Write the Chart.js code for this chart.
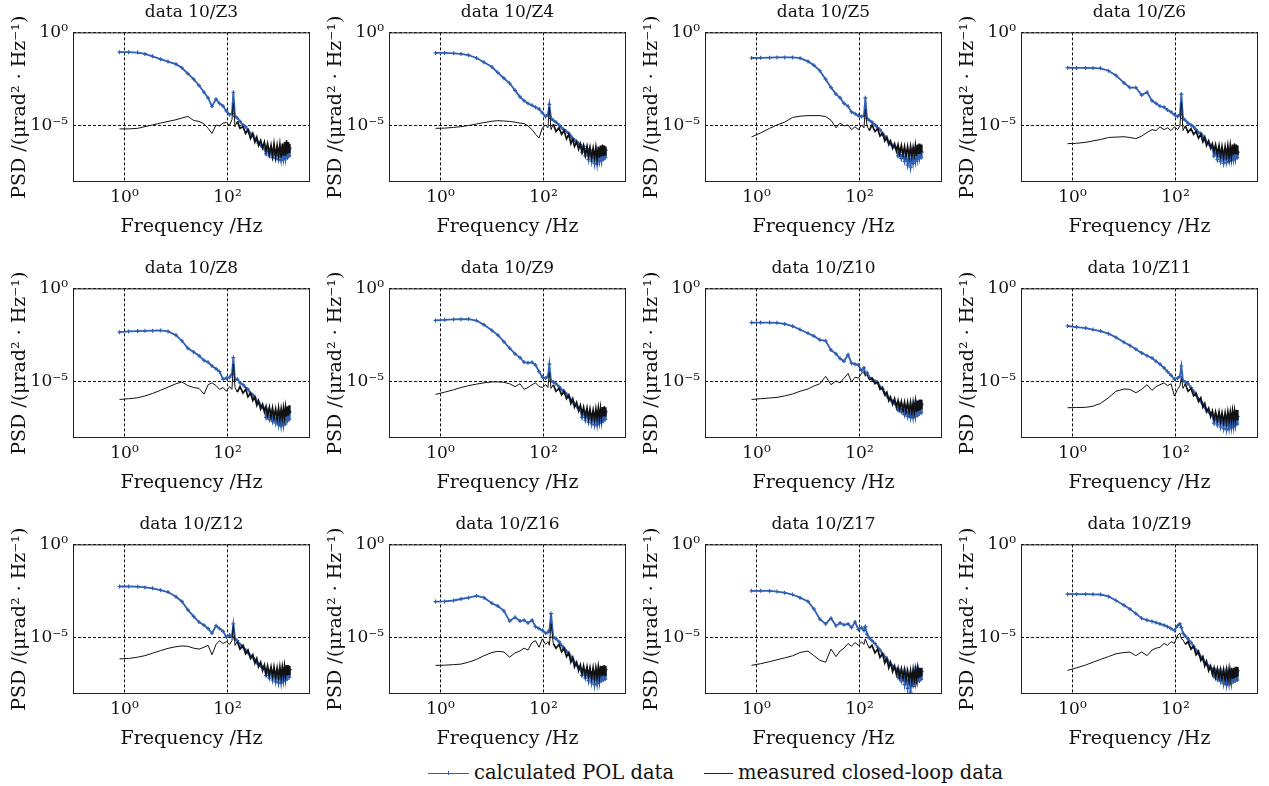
<!DOCTYPE html>
<html>
<head>
<meta charset="utf-8">
<script src="https://cdn.jsdelivr.net/npm/chart.js@4.4.0/dist/chart.umd.min.js"></script>
<style>
  body { margin: 0; background: #fff; width: 1269px; height: 786px; position: relative; overflow: hidden; font-family: 'DejaVu Serif', serif; }
  canvas { position: absolute; }
  .sw { position: absolute; height: 0; border-top: 1.5px solid; }
  .tick { position: absolute; width: 1px; height: 4px; background: #2f5fb3; }
  .lt { position: absolute; font-size: 19.5px; line-height: 22px; color: #111; white-space: nowrap; }
</style>
</head>
<body>
<span class="sw" style="left:428px; top:773px; width:41px; border-color:#2f5fb3"></span>
<span class="tick" style="left:448px; top:771px"></span>
<span class="lt" style="left:474px; top:762px">calculated POL data</span>
<span class="sw" style="left:704px; top:773px; width:29px; border-color:#222; border-top-width:1px"></span>
<span class="lt" style="left:738px; top:762px">measured closed-loop data</span>

<script>
// frequency bins shared by every panel (Hz)
const freq = [0.8, 1.2, 1.8, 2.5, 3.5, 5, 7, 10, 13, 17,
  22, 28, 35, 42, 50, 60, 70, 82, 95, 110,
  122, 130, 140, 155, 175, 200, 225, 250, 280, 310,
  340, 370, 400, 440, 480, 520, 560, 600, 650, 700,
  750, 800, 860, 920, 980, 1040, 1100, 1160, 1220, 1280,
  1340, 1400, 1460, 1520, 1580, 1620];

const xTicks = [1, 100];
const xTickLabels = ['10⁰', '10²'];
const yTicks = [1e-5, 1];
const yTickLabels = ['10⁻⁵', '10⁰'];

// PSD, stored as decade exponents (log10 of µrad²/Hz)
const z3Pol = [-1.06,-1.06,-1.08,-1.15,-1.28,-1.43,-1.56,-1.7,-1.89,-2.2, -2.5,-2.84,-3.2,-3.5,-3.95,-3.57,-3.8,-3.94,-4.2,-4.4, -4.34,-3.2,-4.49,-4.58,-4.76,-4.95,-5.04,-5.22,-5.4,-5.5, -5.68,-5.77,-5.92,-6.04,-6.13,-6.23, -6.5,-6.2,-6.6,-6.3,-6.7,-6.3,-6.75,-6.35,-6.8,-6.4, -6.85,-6.35,-6.8,-6.3,-6.75,-6.2,-6.7,-6.1,-6.6,-6.2];
const z3Cl = [-5.16,-5.16,-5.13,-5.04,-4.95,-4.85,-4.76,-4.67,-4.58,-4.49, -4.71,-4.76,-4.89,-5.13,-5.4,-4.95,-5.0,-4.85,-4.82,-4.95, -4.67,-3.8,-5.04,-4.76,-5.13,-5.04,-5.4,-5.22,-5.68,-5.4, -5.86,-5.59,-6.04,-5.77,-6.17,-5.86, -6.32,-5.95,-6.5,-6.04,-6.59,-5.95,-6.65,-6.04,-6.59,-5.99, -6.68,-5.95,-6.59,-5.86,-6.59,-5.77,-6.5,-5.86,-6.41,-5.95];

const z4Pol = [-1.1,-1.1,-1.12,-1.15,-1.22,-1.37,-1.6,-1.85,-2.15,-2.45, -2.72,-3.1,-3.45,-3.65,-3.8,-3.9,-4.0,-4.1,-4.3,-4.5, -4.4,-3.85,-4.6,-4.7,-4.8,-4.95,-5.1,-5.2,-5.3,-5.4, -5.55,-5.7,-5.75,-5.85,-5.95,-6.0, -6.4,-6.1,-6.6,-6.2,-6.8,-6.3,-6.9,-6.4,-7.0,-6.4, -7.05,-6.5,-6.9,-6.4,-6.85,-6.3,-6.8,-6.2,-6.7,-6.3];
const z4Cl = [-5.13,-5.12,-5.08,-5.04,-4.98,-4.9,-4.82,-4.75,-4.72,-4.74, -4.76,-4.8,-4.85,-4.88,-5.0,-5.2,-5.45,-5.65,-5.1,-4.95, -5.1,-4.03,-5.2,-4.9,-5.3,-5.1,-5.45,-5.25,-5.7,-5.45, -5.95,-5.7,-6.1,-5.85,-6.25,-5.95, -6.4,-6.05,-6.55,-6.1,-6.6,-6.15,-6.7,-6.2,-6.7,-6.15, -6.75,-6.1,-6.7,-6.05,-6.65,-6.0,-6.6,-6.05,-6.55,-6.1];

const z5Pol = [-1.37,-1.36,-1.35,-1.34,-1.34,-1.34,-1.38,-1.55,-1.76,-2.05, -2.5,-2.95,-3.3,-3.5,-3.8,-3.95,-4.25,-4.35,-4.45,-4.5, -4.45,-3.5,-4.6,-4.7,-4.8,-4.95,-5.1,-5.2,-5.4,-5.55, -5.7,-5.85,-5.95,-6.05,-6.1,-6.2, -6.6,-6.3,-6.75,-6.4,-6.9,-6.5,-7.1,-6.6,-7.2,-6.5, -7.0,-6.45,-6.9,-6.4,-6.8,-6.3,-6.7,-6.3,-6.7,-6.4];
const z5Cl = [-5.59,-5.38,-5.13,-4.95,-4.8,-4.55,-4.48,-4.45,-4.45,-4.45, -4.5,-4.7,-5.1,-4.85,-5.0,-4.95,-5.2,-5.05,-5.2,-4.95, -5.1,-4.12,-5.0,-5.25,-4.95,-5.3,-5.15,-5.55,-5.4,-5.8, -5.6,-6.0,-5.8,-6.2,-5.95,-6.35, -6.0,-6.5,-6.05,-6.55,-6.1,-6.6,-6.1,-6.65,-6.1,-6.6, -6.15,-6.55,-6.05,-6.6,-6.0,-6.5,-5.95,-6.5,-6.0,-6.4];

const z6Pol = [-1.89,-1.9,-1.9,-1.91,-1.92,-2.05,-2.3,-2.7,-2.95,-2.95, -3.35,-3.2,-3.65,-3.8,-3.95,-4.0,-4.15,-4.25,-4.4,-4.5, -4.4,-3.3,-4.6,-4.7,-4.85,-4.95,-5.05,-5.2,-5.35,-5.4, -5.55,-5.7,-5.85,-5.95,-6.05,-6.2, -6.6,-6.3,-6.8,-6.4,-6.9,-6.5,-7.0,-6.5,-6.95,-6.5, -6.9,-6.4,-6.85,-6.4,-6.8,-6.3,-6.75,-6.35,-6.7,-6.4];
const z6Cl = [-5.95,-5.93,-5.88,-5.8,-5.73,-5.62,-5.6,-5.58,-5.62,-5.68, -5.55,-5.35,-5.2,-5.25,-5.05,-5.2,-5.1,-5.25,-5.05,-5.2, -5.0,-3.75,-5.25,-5.0,-5.35,-5.15,-5.45,-5.3,-5.65,-5.45, -5.85,-5.6,-6.05,-5.8,-6.2,-5.95, -6.35,-6.0,-6.5,-6.05,-6.6,-6.1,-6.65,-6.1,-6.6,-6.05, -6.65,-6.05,-6.6,-6.0,-6.55,-5.95,-6.5,-6.0,-6.5,-6.05];

const z8Pol = [-2.34,-2.3,-2.28,-2.27,-2.26,-2.25,-2.3,-2.5,-2.8,-3.2, -3.4,-3.6,-3.85,-3.95,-4.15,-4.3,-4.45,-4.85,-4.8,-4.75, -4.6,-3.7,-4.9,-4.85,-5.05,-5.15,-5.3,-5.4,-5.6,-5.7, -5.85,-6.0,-6.1,-6.25,-6.35,-6.45, -6.9,-6.55,-7.0,-6.6,-7.1,-6.7,-7.2,-6.75,-7.3,-6.8, -7.35,-6.8,-7.3,-6.7,-7.25,-6.6,-7.1,-6.5,-7.0,-6.6];
const z8Cl = [-5.94,-5.9,-5.85,-5.75,-5.62,-5.45,-5.28,-5.1,-5.0,-5.2, -5.3,-5.35,-5.65,-5.15,-5.05,-5.2,-5.4,-5.3,-5.5,-5.25, -5.4,-4.05,-5.3,-5.55,-5.25,-5.6,-5.4,-5.8,-5.6,-6.0, -5.8,-6.25,-6.0,-6.45,-6.2,-6.6, -6.3,-6.8,-6.35,-6.9,-6.4,-6.95,-6.45,-7.0,-6.4,-7.0, -6.45,-6.95,-6.4,-6.9,-6.35,-6.85,-6.3,-6.8,-6.25,-6.7];

const z9Pol = [-1.71,-1.68,-1.66,-1.65,-1.64,-1.72,-1.95,-2.25,-2.5,-2.85, -3.2,-3.5,-3.7,-3.95,-3.98,-3.95,-4.1,-4.45,-4.75,-4.8, -4.7,-4.05,-4.95,-5.0,-5.1,-5.25,-5.4,-5.5,-5.65,-5.8, -5.95,-6.05,-6.2,-6.3,-6.4,-6.5, -6.9,-6.55,-7.05,-6.65,-7.15,-6.7,-7.25,-6.8,-7.3,-6.8, -7.3,-6.75,-7.2,-6.7,-7.15,-6.6,-7.1,-6.55,-7.0,-6.6];
const z9Cl = [-5.67,-5.55,-5.42,-5.3,-5.2,-5.12,-5.05,-5.0,-5.0,-5.02, -5.1,-5.25,-5.1,-5.4,-5.3,-5.15,-5.05,-5.25,-5.3,-5.15, -5.3,-4.5,-5.35,-5.15,-5.5,-5.35,-5.7,-5.5,-5.9,-5.7, -6.15,-5.9,-6.35,-6.1,-6.55,-6.25, -6.7,-6.35,-6.85,-6.4,-6.95,-6.45,-7.0,-6.5,-7.0,-6.45, -6.95,-6.4,-6.95,-6.4,-6.9,-6.35,-6.85,-6.3,-6.8,-6.35];

const z10Pol = [-1.83,-1.83,-1.83,-1.84,-1.9,-2.02,-2.2,-2.4,-2.55,-2.75, -2.8,-3.3,-3.5,-3.75,-3.9,-3.55,-4.0,-4.05,-4.1,-4.4, -4.25,-4.55,-4.5,-4.75,-4.85,-4.95,-5.05,-5.25,-5.4,-5.6, -5.75,-5.85,-5.95,-6.05,-6.15,-6.2, -6.5,-6.2,-6.6,-6.3,-6.75,-6.35,-6.85,-6.4,-6.9,-6.4, -6.9,-6.35,-6.85,-6.3,-6.8,-6.2,-6.7,-6.15,-6.65,-6.2];
const z10Cl = [-5.94,-5.9,-5.86,-5.83,-5.75,-5.65,-5.5,-5.38,-5.22,-5.1, -4.7,-5.15,-4.95,-5.05,-4.8,-4.55,-5.0,-4.75,-4.8,-4.55, -4.45,-4.7,-4.6,-4.9,-4.8,-5.1,-5.0,-5.4,-5.3,-5.7, -5.55,-6.0,-5.8,-6.2,-5.9,-6.35, -6.0,-6.45,-6.05,-6.55,-6.1,-6.6,-6.1,-6.65,-6.1,-6.65, -6.1,-6.6,-6.05,-6.6,-6.0,-6.55,-5.95,-6.5,-5.95,-6.45];

const z11Pol = [-2.01,-2.07,-2.12,-2.2,-2.28,-2.42,-2.62,-2.88,-3.05,-3.25, -3.45,-3.6,-3.72,-3.9,-4.05,-4.25,-4.45,-4.65,-4.85,-4.8, -4.7,-4.15,-4.95,-5.0,-5.1,-5.3,-5.5,-5.7,-5.9,-6.05, -6.2,-6.35,-6.5,-6.6,-6.7,-6.8, -7.2,-6.85,-7.3,-6.9,-7.4,-6.95,-7.5,-7.0,-7.55,-7.0, -7.5,-6.95,-7.45,-6.9,-7.4,-6.85,-7.3,-6.8,-7.25,-6.85];
const z11Cl = [-6.38,-6.37,-6.36,-6.3,-6.15,-5.85,-5.5,-5.38,-5.4,-5.58, -5.4,-5.15,-5.45,-5.25,-5.15,-5.05,-5.2,-5.1,-5.75,-5.4, -5.2,-4.77,-5.35,-5.1,-5.5,-5.35,-5.75,-5.6,-6.05,-5.85, -6.35,-6.15,-6.6,-6.4,-6.85,-6.55, -7.0,-6.6,-7.05,-6.6,-7.1,-6.65,-7.15,-6.65,-7.15,-6.6, -7.1,-6.6,-7.1,-6.55,-7.05,-6.55,-7.0,-6.5,-7.0,-6.5];

const z12Pol = [-2.25,-2.25,-2.26,-2.3,-2.35,-2.45,-2.55,-2.8,-3.05,-3.5, -3.85,-4.15,-4.32,-4.5,-4.75,-4.35,-4.5,-4.65,-4.95,-4.85, -4.9,-4.25,-5.05,-5.15,-5.35,-5.5,-5.65,-5.8,-5.95,-6.05, -6.2,-6.3,-6.4,-6.5,-6.55,-6.65, -7.0,-6.7,-7.15,-6.75,-7.25,-6.8,-7.35,-6.85,-7.4,-6.85, -7.4,-6.8,-7.3,-6.75,-7.25,-6.7,-7.2,-6.65,-7.1,-6.7];
const z12Cl = [-6.12,-6.1,-6.03,-5.95,-5.82,-5.68,-5.56,-5.47,-5.43,-5.45, -5.55,-5.6,-5.5,-5.4,-5.9,-5.35,-5.15,-5.3,-5.2,-5.35, -5.15,-4.32,-5.4,-5.2,-5.6,-5.4,-5.85,-5.65,-6.1,-5.9, -6.35,-6.1,-6.55,-6.3,-6.75,-6.45, -6.9,-6.5,-7.0,-6.55,-7.05,-6.55,-7.1,-6.6,-7.1,-6.55, -7.1,-6.55,-7.05,-6.5,-7.0,-6.45,-7.0,-6.45,-6.95,-6.5];

const z16Pol = [-3.06,-3.05,-3.0,-2.92,-2.85,-2.75,-2.85,-3.15,-3.3,-3.55, -4.1,-3.9,-4.1,-4.05,-4.2,-4.05,-4.4,-4.5,-4.6,-4.75, -4.7,-4.6,-3.7,-4.95,-5.05,-5.2,-5.4,-5.55,-5.7,-5.85, -6.0,-6.15,-6.3,-6.45,-6.55,-6.65, -7.0,-6.7,-7.15,-6.75,-7.3,-6.8,-7.4,-6.85,-7.5,-6.85, -7.45,-6.8,-7.35,-6.75,-7.3,-6.7,-7.25,-6.65,-7.2,-6.7];
const z16Cl = [-6.47,-6.46,-6.43,-6.4,-6.3,-6.15,-5.95,-5.78,-5.72,-5.75, -6.03,-5.8,-5.7,-5.55,-5.65,-5.25,-5.15,-5.5,-5.05,-5.35, -5.2,-5.4,-4.23,-5.3,-5.55,-5.35,-5.75,-5.55,-6.0,-5.8, -6.3,-6.05,-6.55,-6.3,-6.75,-6.45, -6.9,-6.5,-7.0,-6.55,-7.05,-6.6,-7.15,-6.6,-7.15,-6.6, -7.1,-6.55,-7.1,-6.5,-7.05,-6.5,-7.0,-6.45,-7.0,-6.5];

const z17Pol = [-2.48,-2.48,-2.49,-2.52,-2.58,-2.68,-2.85,-3.05,-3.45,-4.0, -4.25,-3.95,-4.35,-4.2,-4.3,-4.25,-4.45,-4.15,-4.55,-4.45, -4.6,-4.4,-4.8,-5.0,-5.15,-5.3,-5.5,-5.65,-5.85,-6.0, -6.15,-6.3,-6.4,-6.5,-6.6,-6.7, -7.1,-6.8,-7.3,-6.85,-7.5,-6.9,-7.7,-6.95,-7.9,-6.95, -7.6,-6.9,-7.4,-6.85,-7.3,-6.8,-7.3,-6.75,-7.2,-6.8];
const z17Cl = [-6.47,-6.38,-6.27,-6.17,-6.07,-5.96,-5.78,-5.7,-5.95,-6.2, -6.3,-5.6,-6.0,-5.7,-5.55,-5.3,-5.45,-5.25,-5.4,-5.2, -5.35,-5.05,-5.3,-5.55,-5.4,-5.8,-5.6,-6.05,-5.85,-6.35, -6.1,-6.6,-6.3,-6.8,-6.5,-6.95, -6.6,-7.1,-6.65,-7.15,-6.7,-7.25,-6.75,-7.3,-6.75,-7.3, -6.7,-7.25,-6.7,-7.2,-6.65,-7.15,-6.6,-7.1,-6.6,-7.05];

const z19Pol = [-2.66,-2.66,-2.66,-2.67,-2.68,-2.78,-3.0,-3.25,-3.45,-3.7, -3.95,-4.05,-4.12,-4.18,-4.25,-4.32,-4.4,-4.5,-4.6,-4.35, -4.25,-4.45,-4.75,-4.9,-5.05,-5.25,-5.45,-5.65,-5.85,-6.0, -6.15,-6.3,-6.4,-6.5,-6.6,-6.7, -7.05,-6.75,-7.2,-6.8,-7.3,-6.85,-7.45,-6.9,-7.5,-6.9, -7.45,-6.85,-7.4,-6.8,-7.35,-6.75,-7.3,-6.7,-7.25,-6.75];
const z19Cl = [-6.74,-6.6,-6.45,-6.3,-6.15,-6.0,-5.85,-5.78,-5.76,-5.95, -5.75,-5.95,-5.65,-5.55,-5.5,-5.3,-5.4,-5.2,-5.3,-4.85, -4.75,-5.05,-5.1,-5.35,-5.2,-5.6,-5.45,-5.9,-5.7,-6.2, -6.0,-6.5,-6.25,-6.75,-6.5,-6.95, -6.6,-7.1,-6.65,-7.15,-6.7,-7.2,-6.7,-7.25,-6.7,-7.25, -6.65,-7.2,-6.6,-7.2,-6.6,-7.15,-6.55,-7.1,-6.55,-7.05];

const panelTitles = ['data 10/Z3', 'data 10/Z4', 'data 10/Z5', 'data 10/Z6',
  'data 10/Z8', 'data 10/Z9', 'data 10/Z10', 'data 10/Z11',
  'data 10/Z12', 'data 10/Z16', 'data 10/Z17', 'data 10/Z19'];
const polSeries = [z3Pol, z4Pol, z5Pol, z6Pol, z8Pol, z9Pol, z10Pol, z11Pol, z12Pol, z16Pol, z17Pol, z19Pol];
const clSeries = [z3Cl, z4Cl, z5Cl, z6Cl, z8Cl, z9Cl, z10Cl, z11Cl, z12Cl, z16Cl, z17Cl, z19Cl];

const FONT = "'DejaVu Serif', serif";
const BLUE = '#2f5fb3';

// solid frame round the plot area (grid lines stay dashed)
const framePlugin = {
  id: 'frame',
  afterDraw(chart) {
    const { ctx, chartArea: a } = chart;
    ctx.save();
    ctx.strokeStyle = '#222';
    ctx.lineWidth = 1;
    ctx.strokeRect(a.left + 0.5, a.top + 0.5, a.right - a.left - 1, a.bottom - a.top - 1);
    ctx.restore();
  }
};

function toPoints(exps) {
  return freq.map((f, i) => ({ x: f, y: Math.pow(10, exps[i]) }));
}

panelTitles.forEach((title, i) => {
  const canvas = document.createElement('canvas');
  canvas.width = 316;
  canvas.height = 256;
  canvas.style.left = (i % 4) * 316 + 'px';
  canvas.style.top = Math.floor(i / 4) * 256 + 'px';
  document.body.appendChild(canvas);

  new Chart(canvas, {
    type: 'line',
    data: {
      datasets: [{
        label: 'measured closed-loop data',
        data: toPoints(clSeries[i]),
        borderColor: '#111',
        borderWidth: 1,
        // the noisy high-frequency part reads as a dense band
        segment: { borderWidth: c => (c.p0.parsed.x >= 150 ? 1.7 : 1) },
        pointRadius: 0,
        tension: 0
      }, {
        label: 'calculated POL data',
        data: toPoints(polSeries[i]),
        borderColor: BLUE,
        borderWidth: 1.8,
        pointRadius: 2,
        pointStyle: 'cross',
        pointBorderColor: BLUE,
        pointBorderWidth: 1.2,
        tension: 0
      }]
    },
    options: {
      responsive: false,
      devicePixelRatio: 1,
      animation: false,
      events: [],
      layout: { padding: { top: 0, right: 6, bottom: 0, left: 0 } },
      plugins: {
        legend: { display: false },
        tooltip: { enabled: false },
        title: {
          display: true,
          fullSize: false,
          text: title,
          color: '#111',
          font: { family: FONT, size: 17, weight: 'normal' },
          padding: { top: 2, bottom: 10 }
        }
      },
      scales: {
        x: {
          type: 'logarithmic',
          min: 0.1,
          max: 4000,
          afterBuildTicks: s => { s.ticks = xTicks.map(v => ({ value: v })); },
          afterFit: s => { s.height = 74; },
          ticks: {
            callback: v => xTickLabels[xTicks.indexOf(v)],
            color: '#111',
            font: { family: FONT, size: 17 },
            padding: 5,
            maxRotation: 0,
            autoSkip: false
          },
          grid: { color: '#111', lineWidth: 1, drawTicks: false },
          border: { display: false, dash: [3, 2] },
          title: {
            display: true,
            text: 'Frequency /Hz',
            color: '#111',
            font: { family: FONT, size: 19 },
            padding: { top: 0, bottom: 18 }
          }
        },
        y: {
          type: 'logarithmic',
          min: 1e-8,
          max: 1,
          afterBuildTicks: s => { s.ticks = yTicks.map(v => ({ value: v })); },
          afterFit: s => { s.width = 73; },
          ticks: {
            callback: v => yTickLabels[yTicks.indexOf(v)],
            color: '#111',
            font: { family: FONT, size: 17 },
            padding: 5,
            autoSkip: false
          },
          grid: { color: '#111', lineWidth: 1, drawTicks: false },
          border: { display: false, dash: [3, 2] },
          title: {
            display: true,
            text: 'PSD /(μrad² · Hz⁻¹)',
            color: '#111',
            font: { family: FONT, size: 19 },
            padding: { top: 9, bottom: 0 }
          }
        }
      }
    },
    plugins: [framePlugin]
  });
});
</script>
</body>
</html>
